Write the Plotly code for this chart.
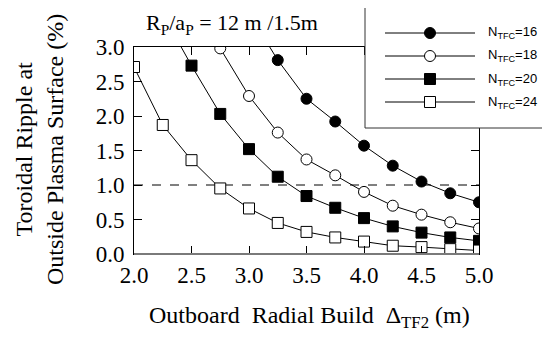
import plotly.graph_objects as go

# Data
x_n16 = [3.0, 3.25, 3.5, 3.75, 4.0, 4.25, 4.5, 4.75, 5.0]
y_n16 = [3.49, 2.81, 2.25, 1.92, 1.57, 1.28, 1.05, 0.88, 0.75]

x_n18 = [2.75, 3.0, 3.25, 3.5, 3.75, 4.0, 4.25, 4.5, 4.75, 5.0]
y_n18 = [2.98, 2.29, 1.76, 1.37, 1.14, 0.90, 0.70, 0.57, 0.46, 0.37]

x_n20 = [2.25, 2.5, 2.75, 3.0, 3.25, 3.5, 3.75, 4.0, 4.25, 4.5, 4.75, 5.0]
y_n20 = [3.48, 2.73, 2.03, 1.52, 1.12, 0.84, 0.67, 0.52, 0.40, 0.31, 0.24, 0.19]

x_n24 = [2.0, 2.25, 2.5, 2.75, 3.0, 3.25, 3.5, 3.75, 4.0, 4.25, 4.5, 4.75, 5.0]
y_n24 = [2.71, 1.87, 1.36, 0.95, 0.66, 0.45, 0.32, 0.24, 0.18, 0.12, 0.10, 0.07, 0.05]

series_names = ["N<sub>TFC</sub>=16", "N<sub>TFC</sub>=18", "N<sub>TFC</sub>=20", "N<sub>TFC</sub>=24"]
x_ticks = [2.0, 2.5, 3.0, 3.5, 4.0, 4.5, 5.0]
y_ticks = [0.0, 0.5, 1.0, 1.5, 2.0, 2.5, 3.0]
ref_level = 1.0

SERIF = "Liberation Serif"
SANS = "Liberation Sans"

# The page body adds an 8px offset; the figure is laid out so the plot
# area lands at window x 134..479, y 47..254.
OFF = 8
W, H = 550 - OFF, 338 - OFF
ML, MT = 134 - OFF, 47 - OFF
MR = W - (479 - OFF)
MB = H - (254 - OFF)
PW, PH = W - ML - MR, H - MT - MB


def win_to_paper(wx, wy):
    fx, fy = wx - OFF, wy - OFF
    return (fx - ML) / PW, (H - MB - fy) / PH


styles = [
    dict(symbol="circle", color="black"),
    dict(symbol="circle", color="white"),
    dict(symbol="square", color="black"),
    dict(symbol="square", color="white"),
]
data = [(x_n16, y_n16), (x_n18, y_n18), (x_n20, y_n20), (x_n24, y_n24)]
MS = 11

fig = go.Figure()
for (xs, ys), name, st in zip(data, series_names, styles):
    fig.add_trace(go.Scatter(
        x=xs, y=ys, mode="lines+markers", name=name, showlegend=False,
        line=dict(color="black", width=1),
        marker=dict(symbol=st["symbol"], color=st["color"], size=MS,
                    line=dict(color="black", width=1)),
    ))

# dashed reference line at 1 %
fig.add_shape(type="line", xref="paper", yref="y", x0=0, x1=1,
              y0=ref_level, y1=ref_level, layer="below",
              line=dict(color="black", width=1, dash="dash"))

# gray bottom axis line
fig.add_shape(type="line", xref="paper", yref="paper", x0=0, x1=1,
              y0=0, y1=0, layer="above",
              line=dict(color="#7a7a7a", width=2))

axis_common = dict(
    showgrid=False, zeroline=False, ticks="inside", ticklen=8,
    tickcolor="black", tickwidth=1, showline=True, linecolor="black",
    linewidth=1, mirror="ticks",
    tickfont=dict(family="Liberation Serif, Times New Roman, serif", size=23, color="black"),
)

fig.update_xaxes(range=[2.0, 5.0], tickvals=x_ticks,
                 ticktext=[f"{v:.1f}" for v in x_ticks], **axis_common)
fig.update_yaxes(range=[0.0, 3.0], tickvals=y_ticks, ticklabelstandoff=4,
                 ticktext=[f"{v:.1f}" for v in y_ticks], **axis_common)

# ---- custom legend (box, sample lines, markers, labels) ----
bx0, by0 = win_to_paper(365, 7)
bx1, by1 = win_to_paper(547, 128)
fig.add_shape(type="rect", xref="paper", yref="paper",
              x0=bx0, x1=bx1, y0=by1, y1=by0, layer="above",
              fillcolor="white", line=dict(color="#333", width=1))
row_y = [33, 56, 79, 102]
for name, st, ry in zip(series_names, styles, row_y):
    lx0, ly = win_to_paper(385, ry)
    lx1, _ = win_to_paper(475, ry)
    mx, _ = win_to_paper(430, ry)
    tx, _ = win_to_paper(486, ry)
    fig.add_shape(type="line", xref="paper", yref="paper",
                  x0=lx0, x1=lx1, y0=ly, y1=ly, layer="above",
                  line=dict(color="black", width=1))
    fig.add_shape(type="circle" if st["symbol"] == "circle" else "rect",
                  xref="paper", yref="paper", layer="above",
                  xsizemode="pixel", ysizemode="pixel",
                  xanchor=mx, yanchor=ly,
                  x0=-MS / 2, x1=MS / 2, y0=-MS / 2, y1=MS / 2,
                  fillcolor=st["color"], line=dict(color="black", width=1))
    fig.add_annotation(xref="paper", yref="paper", x=tx, y=ly,
                       xanchor="left", yanchor="middle", showarrow=False,
                       text=name, font=dict(family=SANS, size=13, color="black"))

# x-axis title
xt_x, xt_y = win_to_paper(309, 317)
fig.add_annotation(xref="paper", yref="paper", x=xt_x, y=xt_y,
                   xanchor="center", yanchor="middle", showarrow=False,
                   text="Outboard\u00a0\u00a0Radial Build\u00a0\u00a0\u0394<sub>TF2</sub> (m)",
                   font=dict(family=SERIF, size=24, color="black"))
# y-axis title (two lines)
yt_x, yt_y = win_to_paper(39, 150)
fig.add_annotation(xref="paper", yref="paper", x=yt_x, y=yt_y,
                   xanchor="center", yanchor="middle", showarrow=False,
                   textangle=-90,
                   text="Toroidal Ripple at<br>Outside Plasma Surface (%)",
                   font=dict(family=SERIF, size=24, color="black"))
# title
tt_x, tt_y = win_to_paper(232, OFF)
fig.add_annotation(xref="paper", yref="paper", x=tt_x, y=tt_y,
                   xanchor="center", yanchor="top", showarrow=False,
                   text="R<sub>P</sub>/a<sub>P</sub> = 12 m /1.5m",
                   font=dict(family=SERIF, size=22, color="black"))

fig.update_layout(
    width=W, height=H,
    margin=dict(l=ML, r=MR, t=MT, b=MB),
    paper_bgcolor="white", plot_bgcolor="white",
    font=dict(family=SERIF, color="black"),
    showlegend=False,
)

fig.write_html("out.html")
